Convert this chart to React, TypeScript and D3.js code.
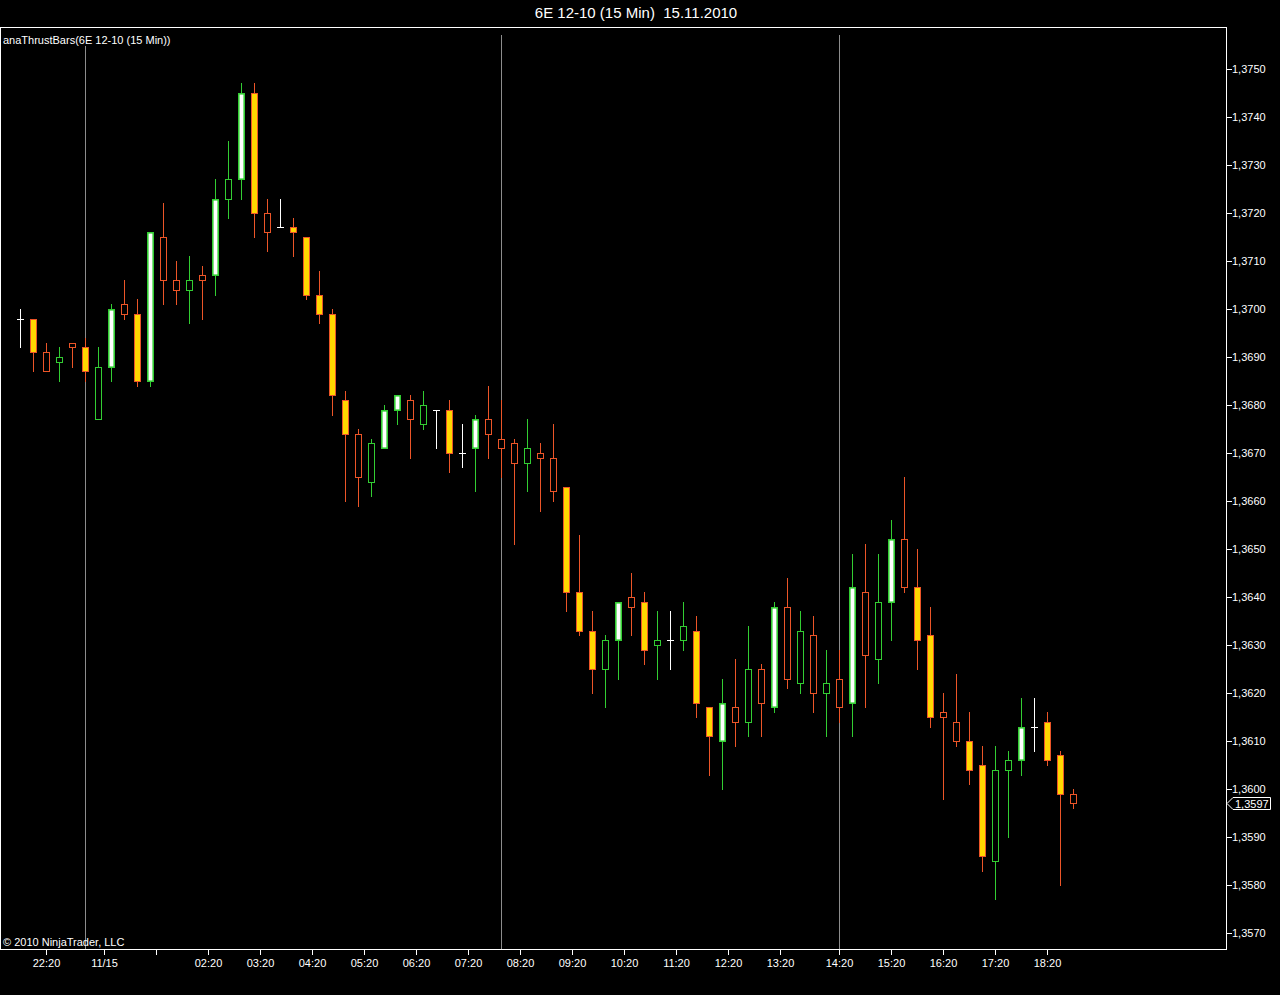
import React from 'react';
import * as d3 from 'd3';

// OHLC of the 15-minute bars (6E 12-10)
const opens = [
  1.3698, 1.3698, 1.3691, 1.3689, 1.3693, 1.3692, 1.3677, 1.3688, 1.3701, 1.3699,
  1.3685, 1.3715, 1.3706, 1.3704, 1.3707, 1.3707, 1.3723, 1.3727, 1.3745, 1.3720,
  1.3717, 1.3717, 1.3715, 1.3703, 1.3699, 1.3681, 1.3674, 1.3664, 1.3671, 1.3679,
  1.3681, 1.3676, 1.3679, 1.3679, 1.3670, 1.3671, 1.3677, 1.3673, 1.3672, 1.3668,
  1.3670, 1.3669, 1.3663, 1.3641, 1.3633, 1.3625, 1.3631, 1.3640, 1.3639, 1.3630,
  1.3631, 1.3631, 1.3633, 1.3617, 1.3610, 1.3617, 1.3614, 1.3625, 1.3617, 1.3638,
  1.3622, 1.3632, 1.3620, 1.3623, 1.3618, 1.3641, 1.3627, 1.3639, 1.3652, 1.3642,
  1.3632, 1.3616, 1.3614, 1.3610, 1.3605, 1.3585, 1.3604, 1.3606, 1.3613, 1.3614,
  1.3607, 1.3599,
];
const highs = [
  1.3700, 1.3698, 1.3693, 1.3692, 1.3693, 1.3694, 1.3692, 1.3701, 1.3706, 1.3702,
  1.3716, 1.3722, 1.3710, 1.3711, 1.3709, 1.3727, 1.3735, 1.3747, 1.3747, 1.3723,
  1.3723, 1.3719, 1.3715, 1.3708, 1.3700, 1.3683, 1.3675, 1.3673, 1.3680, 1.3682,
  1.3682, 1.3683, 1.3679, 1.3681, 1.3676, 1.3678, 1.3684, 1.3681, 1.3673, 1.3677,
  1.3672, 1.3676, 1.3663, 1.3653, 1.3637, 1.3632, 1.3639, 1.3645, 1.3641, 1.3637,
  1.3637, 1.3639, 1.3636, 1.3617, 1.3623, 1.3627, 1.3634, 1.3626, 1.3639, 1.3644,
  1.3637, 1.3636, 1.3629, 1.3629, 1.3649, 1.3651, 1.3649, 1.3656, 1.3665, 1.3650,
  1.3638, 1.3620, 1.3624, 1.3616, 1.3609, 1.3609, 1.3608, 1.3619, 1.3619, 1.3616,
  1.3608, 1.3600,
];
const lows = [
  1.3692, 1.3687, 1.3687, 1.3685, 1.3688, 1.3685, 1.3677, 1.3685, 1.3698, 1.3684,
  1.3684, 1.3701, 1.3701, 1.3697, 1.3698, 1.3703, 1.3719, 1.3723, 1.3715, 1.3712,
  1.3717, 1.3711, 1.3702, 1.3697, 1.3678, 1.3660, 1.3659, 1.3661, 1.3671, 1.3676,
  1.3669, 1.3675, 1.3671, 1.3666, 1.3667, 1.3662, 1.3669, 1.3665, 1.3651, 1.3662,
  1.3658, 1.3660, 1.3637, 1.3632, 1.3620, 1.3617, 1.3623, 1.3632, 1.3626, 1.3623,
  1.3625, 1.3629, 1.3615, 1.3603, 1.3600, 1.3609, 1.3611, 1.3611, 1.3616, 1.3621,
  1.3620, 1.3616, 1.3611, 1.3614, 1.3611, 1.3617, 1.3622, 1.3631, 1.3641, 1.3625,
  1.3613, 1.3598, 1.3609, 1.3601, 1.3583, 1.3577, 1.3590, 1.3603, 1.3608, 1.3605,
  1.3580, 1.3596,
];
const closes = [
  1.3698, 1.3691, 1.3687, 1.3690, 1.3692, 1.3687, 1.3688, 1.3700, 1.3699, 1.3685,
  1.3716, 1.3706, 1.3704, 1.3706, 1.3706, 1.3723, 1.3727, 1.3745, 1.3720, 1.3716,
  1.3717, 1.3716, 1.3703, 1.3699, 1.3682, 1.3674, 1.3665, 1.3672, 1.3679, 1.3682,
  1.3677, 1.3680, 1.3679, 1.3670, 1.3670, 1.3677, 1.3674, 1.3671, 1.3668, 1.3671,
  1.3669, 1.3662, 1.3641, 1.3633, 1.3625, 1.3631, 1.3639, 1.3638, 1.3629, 1.3631,
  1.3631, 1.3634, 1.3618, 1.3611, 1.3618, 1.3614, 1.3625, 1.3618, 1.3638, 1.3623,
  1.3633, 1.3620, 1.3622, 1.3617, 1.3642, 1.3628, 1.3639, 1.3652, 1.3642, 1.3631,
  1.3615, 1.3615, 1.3610, 1.3604, 1.3586, 1.3604, 1.3606, 1.3613, 1.3613, 1.3606,
  1.3599, 1.3597,
];
// anaThrustBars flag (1 = thrust bar)
const thrust = [
  0, 1, 0, 0, 0, 1, 0, 1, 0, 1,
  1, 0, 0, 0, 0, 1, 0, 1, 1, 0,
  0, 1, 1, 1, 1, 1, 0, 0, 1, 1,
  0, 0, 0, 1, 0, 1, 0, 0, 0, 0,
  0, 0, 1, 1, 1, 0, 1, 0, 1, 0,
  0, 0, 1, 1, 1, 0, 0, 0, 1, 0,
  0, 0, 0, 0, 1, 0, 0, 1, 0, 1,
  1, 0, 0, 1, 1, 0, 0, 1, 0, 1,
  1, 0,
];

const separatorBars = [5, 37, 63];
const priceTickValues = [
  1.3570, 1.3580, 1.3590, 1.3600, 1.3610, 1.3620, 1.3630, 1.3640, 1.3650, 1.3660,
  1.3670, 1.3680, 1.3690, 1.3700, 1.3710, 1.3720, 1.3730, 1.3740, 1.3750,
];
const timeTickLabels = [
  '22:20', '11/15', '', '02:20', '03:20', '04:20', '05:20', '06:20', '07:20', '08:20',
  '09:20', '10:20', '11:20', '12:20', '13:20', '14:20', '15:20', '16:20', '17:20', '18:20',
];
const timeTickBars = [
  2, 6.46, 10.46, 14.46, 18.46, 22.46, 26.46, 30.46, 34.46, 38.46,
  42.46, 46.46, 50.46, 54.46, 58.46, 63, 67, 71, 75, 79,
];
const lastPrice = 1.3597;
const titleText = '6E 12-10 (15 Min)  15.11.2010';
const indicatorLabel = 'anaThrustBars(6E 12-10 (15 Min))';
const copyrightText = '\u00A9 2010 NinjaTrader, LLC';

const W = 1280;
const H = 995;
const GREEN = '#32CD32';
const RED = '#EC5528';
const YELLOW = '#FFD700';
const FONT = '"Liberation Sans", Arial, sans-serif';

const fmt = (p: number) => p.toFixed(4).replace('.', ',');

export default function App() {
  const x = d3.scaleLinear().domain([0, 81]).range([20, 1073]);
  const y = d3.scaleLinear().domain([1.357, 1.375]).range([933, 69]);
  const sx = (i: number) => Math.round(x(i));
  const sy = (p: number) => Math.round(y(p));

  const plotLeft = 1;
  const plotRight = 1226;
  const plotTop = 27;
  const plotBottom = 949;

  const bars = opens.map((o, i) => {
    const c = closes[i];
    const hi = highs[i];
    const lo = lows[i];
    const cx = sx(i);
    const wx = cx + 0.5;
    const top = sy(Math.max(o, c));
    const bot = sy(Math.min(o, c));
    if (o === c) {
      return (
        <g key={i}>
          <line x1={wx} x2={wx} y1={sy(hi)} y2={sy(lo) + 1} stroke="#fff" strokeWidth={1} />
          <line x1={cx - 3} x2={cx + 4} y1={top + 0.5} y2={top + 0.5} stroke="#fff" strokeWidth={1} />
        </g>
      );
    }
    const up = c > o;
    const col = up ? GREEN : RED;
    const fill = thrust[i] ? (up ? '#ffffff' : YELLOW) : '#000';
    const sw = thrust[i] && up ? 1.6 : 1;
    const h = Math.max(0, bot + 1 - top - sw);
    return (
      <g key={i}>
        <line x1={wx} x2={wx} y1={sy(hi)} y2={sy(lo) + 1} stroke={col} strokeWidth={1} />
        <rect x={cx - 3 + sw / 2} y={top + sw / 2} width={7 - sw} height={h} fill={fill} stroke={col} strokeWidth={sw} />
      </g>
    );
  });

  const ly = sy(lastPrice);
  const markerPts = [
    [plotRight + 1, ly + 0.5],
    [plotRight + 7, ly - 5.5],
    [1270.5, ly - 5.5],
    [1270.5, ly + 6.5],
    [plotRight + 7, ly + 6.5],
  ]
    .map((p) => p.join(','))
    .join(' ');

  return (
    <>
      <style>{'body{margin:0;background:#000;}'}</style>
      <svg width={W} height={H} style={{ display: 'block', background: '#000' }} fontFamily={FONT}>
        <rect x={0} y={0} width={W} height={H} fill="#000" />
        <text x={636} y={18} fill="#fff" fontSize={15} textAnchor="middle" style={{ whiteSpace: 'pre' }}>{titleText}</text>

        {separatorBars.map((b) => (
          <line key={b} x1={sx(b) + 0.5} x2={sx(b) + 0.5} y1={35} y2={plotBottom} stroke="#8c8c8c" strokeWidth={1} />
        ))}

        {bars}

        {/* frame */}
        <line x1={0} x2={plotRight + 1} y1={plotTop + 0.5} y2={plotTop + 0.5} stroke="#fff" strokeWidth={1} />
        <line x1={0} x2={plotRight + 1} y1={plotBottom + 0.5} y2={plotBottom + 0.5} stroke="#fff" strokeWidth={1} />
        <line x1={plotRight + 0.5} x2={plotRight + 0.5} y1={plotTop} y2={plotBottom + 1} stroke="#fff" strokeWidth={1} />
        <line x1={plotLeft - 0.5} x2={plotLeft - 0.5} y1={plotTop} y2={plotBottom + 1} stroke="#fff" strokeWidth={1} />

        {/* indicator label */}
        <rect x={2} y={33} width={168} height={13} fill="#000" />
        <text x={3} y={44} fill="#fff" fontSize={11}>{indicatorLabel}</text>
        <text x={3} y={946} fill="#fff" fontSize={11}>{copyrightText}</text>

        {/* price axis */}
        {priceTickValues.map((p) => {
          const yy = sy(p);
          return (
            <g key={p}>
              <line x1={plotRight} x2={plotRight + 6} y1={yy + 0.5} y2={yy + 0.5} stroke="#fff" strokeWidth={1} />
              <text x={plotRight + 6} y={yy + 4} fill="#fff" fontSize={11}>{fmt(p)}</text>
            </g>
          );
        })}

        {/* last price marker */}
        <polygon points={markerPts} fill="#000" stroke="#fff" strokeWidth={1} />
        <text x={plotRight + 9} y={ly + 4.5} fill="#fff" fontSize={11}>{fmt(lastPrice)}</text>

        {/* time axis */}
        {timeTickBars.map((b, k) => {
          const xx = Math.round(x(b));
          return (
            <g key={k}>
              <line x1={xx + 0.5} x2={xx + 0.5} y1={plotBottom} y2={plotBottom + 6} stroke="#fff" strokeWidth={1} />
              {timeTickLabels[k] && (
                <text x={xx + 0.5} y={967} fill="#fff" fontSize={11} textAnchor="middle">{timeTickLabels[k]}</text>
              )}
            </g>
          );
        })}
      </svg>
    </>
  );
}
